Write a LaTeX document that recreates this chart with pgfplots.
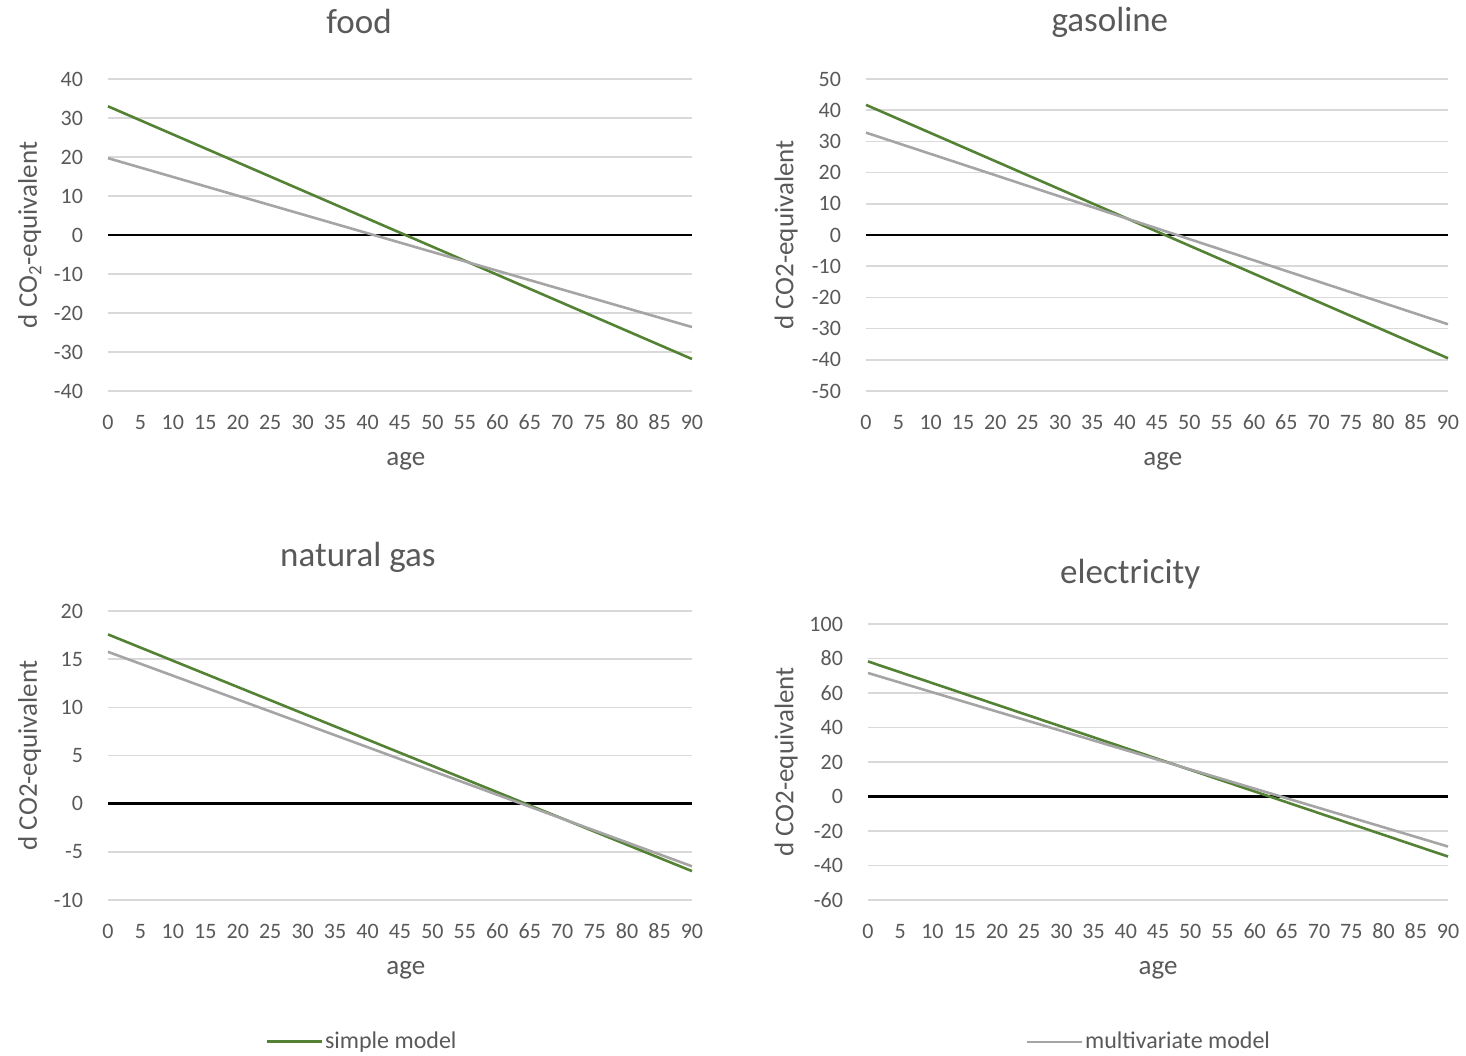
\documentclass[border=0pt]{standalone}
\usepackage{fontspec}
\setmainfont{Carlito}
\usepackage{pgfplots}
\pgfplotsset{compat=1.18}

\definecolor{simplegreen}{HTML}{548235}
\definecolor{multigray}{HTML}{A5A5A5}
\definecolor{gridgray}{HTML}{D9D9D9}
\definecolor{textgray}{HTML}{595959}

\pgfplotsset{
  excelstyle/.style={
    scale only axis,
    xmin=0, xmax=90,
    xtick={0,5,...,90},
    enlargelimits=false,
    axis line style={draw=none},
    major tick length=0pt,
    ymajorgrids,
    grid style={gridgray, line width=0.8pt},
    /pgf/number format/assume math mode=true,
    tick label style={font=\fontsize{11}{13}\selectfont, text=textgray},
    xticklabel style={yshift=-8pt, text height=1.6ex, text depth=0.2ex},
    yticklabel style={xshift=-9pt},
    label style={font=\fontsize{13.5}{16}\selectfont, text=textgray},
    title style={font=\fontsize{17.5}{20}\selectfont, text=textgray, anchor=center, yshift=-6pt},
    xlabel={age},
    clip=false,
    legend image code/.code={\draw[#1] (0pt,0pt) -- (27.5pt,0pt);},
    legend style={draw=none, fill=none, inner sep=0pt,
      font=\fontsize{12}{14}\selectfont, text=textgray,
      nodes={inner xsep=1pt}},
  },
  simple/.style={simplegreen, line width=1.3pt},
  multi/.style={multigray, line width=1.3pt},
  zero/.style={black, line width=1.2pt, forget plot},
}

\begin{document}
\begin{tikzpicture}
\useasboundingbox (0pt,0pt) rectangle (733pt,527.5pt);

% food
\begin{axis}[excelstyle,
  at={(54pt,332pt)}, anchor=south west,
  width=292pt, height=156pt,
  ymin=-40, ymax=40, ytick={-40,-30,...,40},
  title={food}, title style={at={(axis description cs:0.43,1.183)}},
  ylabel={d CO\textsubscript{2}-equivalent},
  ylabel style={at={(axis description cs:-0.134,0.5)}, anchor=center},
  xlabel style={at={(axis description cs:0.51,-0.224)}, anchor=center},
]
\addplot[zero] coordinates {(0,0) (90,0)};
\addplot[simple, forget plot] coordinates {(0,33.0) (90,-31.8)};
\addplot[multi, forget plot] coordinates {(0,19.7) (90,-23.6)};
\end{axis}

% gasoline
\begin{axis}[excelstyle,
  at={(433pt,332pt)}, anchor=south west,
  width=291pt, height=156pt,
  ymin=-50, ymax=50, ytick={-50,-40,...,50},
  title={gasoline}, title style={at={(axis description cs:0.419,1.183)}},
  ylabel={d CO2-equivalent},
  ylabel style={at={(axis description cs:-0.137,0.5)}, anchor=center},
  xlabel style={at={(axis description cs:0.51,-0.224)}, anchor=center},
]
\addplot[zero] coordinates {(0,0) (90,0)};
\addplot[simple, forget plot] coordinates {(0,41.7) (90,-39.5)};
\addplot[multi, forget plot] coordinates {(0,32.8) (90,-28.6)};
\end{axis}

% natural gas
\begin{axis}[excelstyle,
  at={(54pt,77.5pt)}, anchor=south west,
  width=292pt, height=144.5pt,
  ymin=-10, ymax=20, ytick={-10,-5,...,20},
  title={natural gas}, title style={at={(axis description cs:0.428,1.187)}},
  ylabel={d CO2-equivalent},
  ylabel style={at={(axis description cs:-0.134,0.5)}, anchor=center},
  xlabel style={at={(axis description cs:0.51,-0.242)}, anchor=center},
  legend style={at={(axis description cs:0.269,-0.49)}, anchor=west},
]
\addplot[zero] coordinates {(0,0) (90,0)};
\addplot[simple] coordinates {(0,17.57) (90,-7.0)};
\addlegendentry{simple model}
\addplot[multi, forget plot] coordinates {(0,15.76) (90,-6.5)};
\end{axis}

% electricity
\begin{axis}[excelstyle,
  at={(434pt,77.5pt)}, anchor=south west,
  width=290pt, height=138pt,
  ymin=-60, ymax=100, ytick={-60,-40,...,100},
  title={electricity}, title style={at={(axis description cs:0.452,1.181)}},
  ylabel={d CO2-equivalent},
  ylabel style={at={(axis description cs:-0.141,0.5)}, anchor=center},
  xlabel style={at={(axis description cs:0.5,-0.254)}, anchor=center},
  legend style={at={(axis description cs:0.271,-0.514)}, anchor=west},
]
\addplot[zero] coordinates {(0,0) (90,0)};
\addplot[simple, forget plot] coordinates {(0,78.3) (90,-34.8)};
\addplot[multi] coordinates {(0,71.6) (90,-29.0)};
\addlegendentry{multivariate model}
\end{axis}
\end{tikzpicture}
\end{document}
